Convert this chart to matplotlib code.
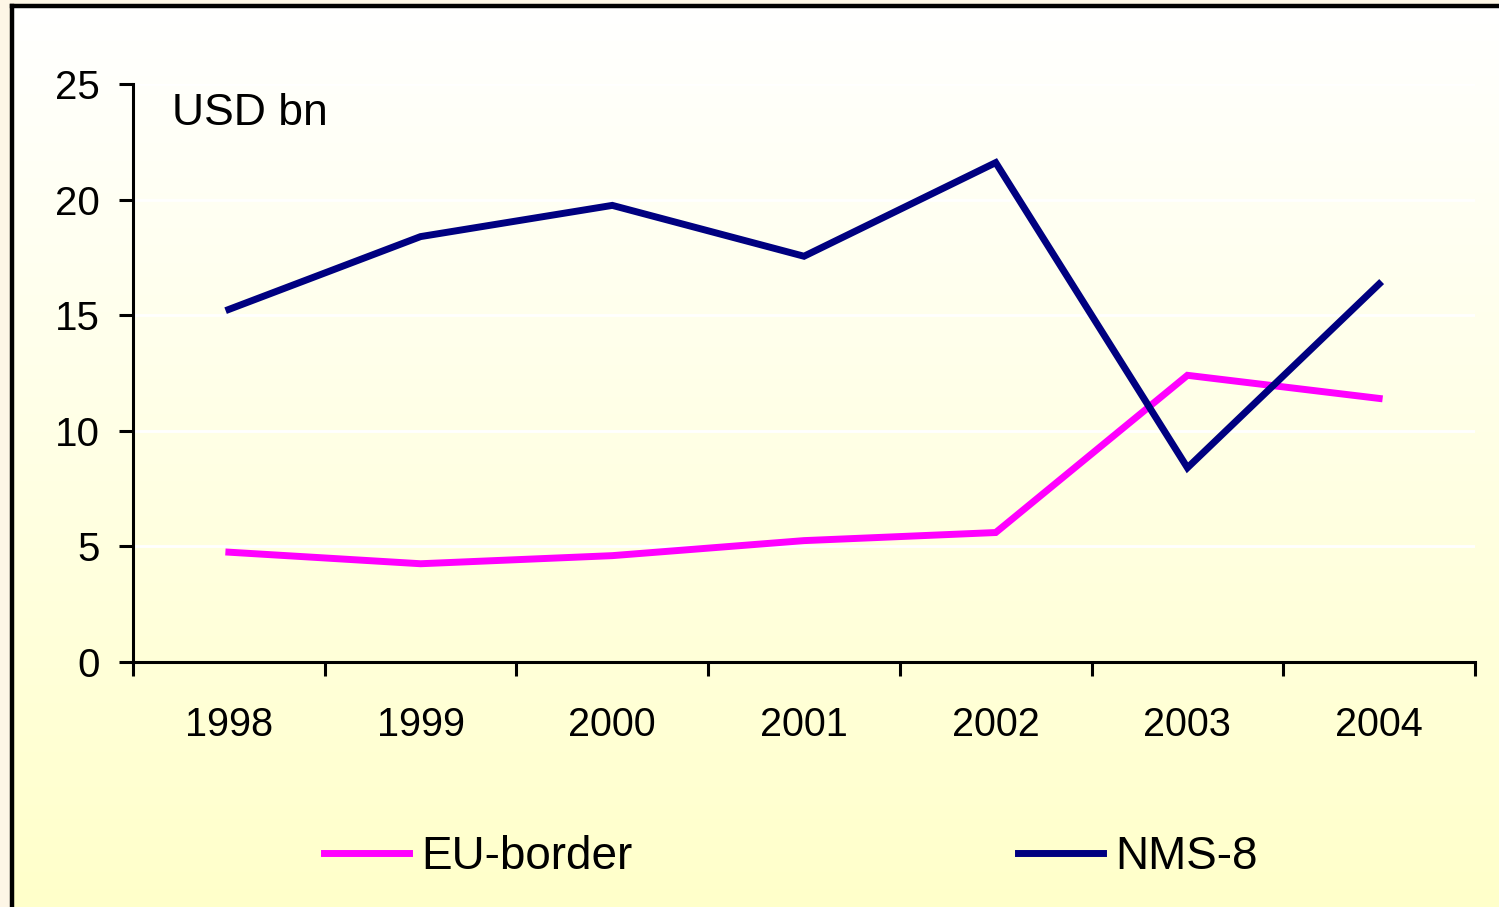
import numpy as np
import matplotlib
matplotlib.use("Agg")
import matplotlib.pyplot as plt
from matplotlib.colors import LinearSegmentedColormap

plt.rcParams['font.family'] = ['Liberation Sans', 'DejaVu Sans']

years = ['1998', '1999', '2000', '2001', '2002', '2003', '2004']
eu_border = [4.75, 4.25, 4.6, 5.25, 5.6, 12.4, 11.4]
nms8 = [15.25, 18.4, 19.75, 17.55, 21.6, 8.4, 16.35]
y_ticks = [0, 5, 10, 15, 20, 25]

W, H = 1499, 907
fig = plt.figure(figsize=(W / 100, H / 100), dpi=100)
fig.patch.set_facecolor('#fdf6e6')

# framed panel with white-to-yellow gradient
bg = fig.add_axes([12 / W, 0, 1 - 12 / W, 1 - 6 / H])
grad = LinearSegmentedColormap.from_list('g', ['#ffffff', '#ffffca'])
bg.imshow(np.linspace(0, 1, 256).reshape(-1, 1), aspect='auto', cmap=grad,
          extent=[0, 1, 0, 1], origin='upper')
bg.set_xticks([])
bg.set_yticks([])
for side in ['right', 'bottom']:
    bg.spines[side].set_visible(False)
for side in ['left', 'top']:
    bg.spines[side].set_linewidth(3.2)

ax = fig.add_axes([133 / W, 1 - 662 / H, (1475 - 133) / W, (662 - 84) / H])
ax.patch.set_alpha(0)
x = np.arange(len(years))
ax.plot(x, eu_border, color='#ff00ff', lw=5, label='EU-border',
        solid_joinstyle='miter')
ax.plot(x, nms8, color='#000080', lw=5, label='NMS-8',
        solid_joinstyle='miter')

ax.set_xlim(-0.5, len(years) - 0.5)
ax.set_ylim(0, 25)
ax.set_yticks(y_ticks)
ax.set_yticklabels([str(v) for v in y_ticks])
ax.set_xticks(x)
ax.set_xticklabels(years)
ax.set_xticks(np.arange(len(years) + 1) - 0.5, minor=True)
ax.tick_params(axis='x', which='major', length=0, pad=32, labelsize=28.5)
ax.tick_params(axis='x', which='minor', length=10, width=2.2, direction='out')
ax.tick_params(axis='y', length=10, width=2.2, direction='out', pad=14,
               labelsize=29)
for side in ['top', 'right']:
    ax.spines[side].set_visible(False)
for side in ['left', 'bottom']:
    ax.spines[side].set_linewidth(2.2)
ax.yaxis.grid(True, color='white', lw=2)
ax.set_axisbelow(True)

fig.text(172 / W, 1 - 125 / H, 'USD bn', fontsize=32, va='baseline')

fig.legend(loc='center', bbox_to_anchor=(791 / W, 1 - 857 / H), ncol=2,
           frameon=False, fontsize=33, handlelength=1.85, handletextpad=0.28,
           columnspacing=8.4)

fig.savefig('out.png', dpi=100)
